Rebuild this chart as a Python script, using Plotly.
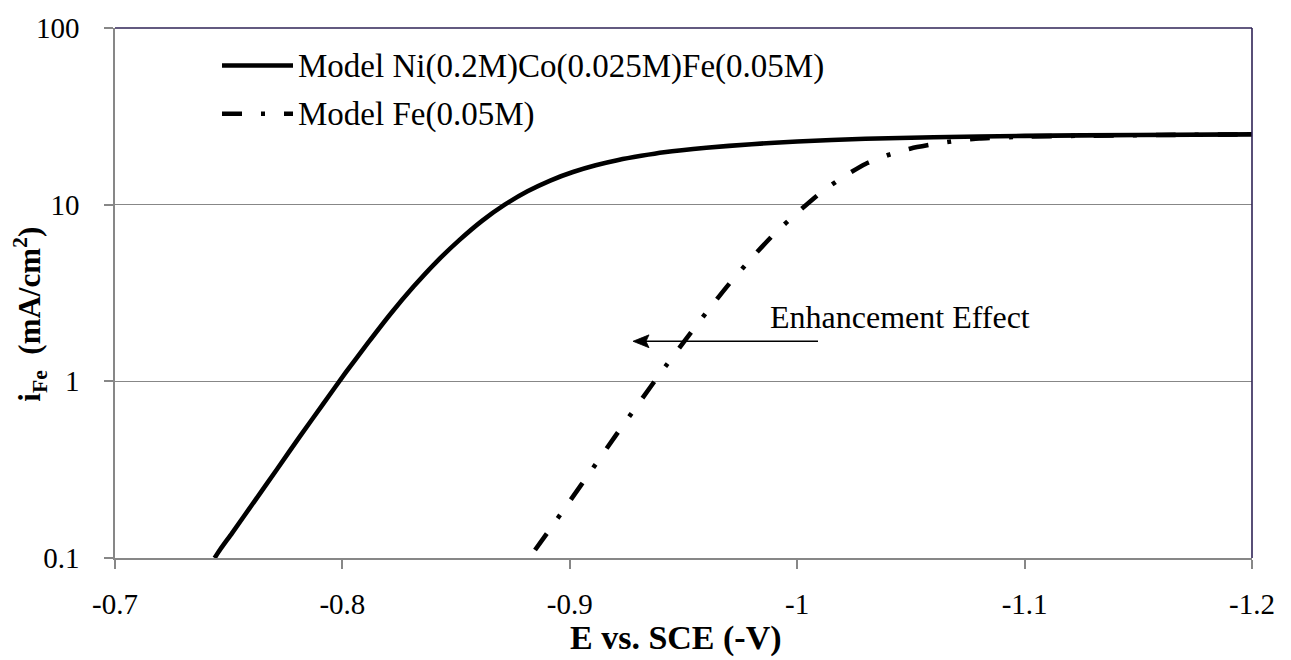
import plotly.graph_objects as go

# Electrode potential (V vs. SCE) and partial Fe current density (mA/cm^2)
e_nicofe = [-0.7438, -0.7461, -0.7514, -0.7614, -0.7714, -0.7814, -0.7914, -0.8014,
            -0.8114, -0.8214, -0.8314, -0.8414, -0.8514, -0.8614, -0.8714, -0.8814,
            -0.8914, -0.9014, -0.9114, -0.9214, -0.9314, -0.9414, -0.96, -0.98,
            -1.00, -1.03, -1.06, -1.10, -1.15, -1.20]
i_nicofe = [0.100, 0.111, 0.138, 0.21, 0.32, 0.49, 0.74, 1.12,
            1.66, 2.43, 3.45, 4.75, 6.3, 8.1, 10.0, 11.9,
            13.7, 15.3, 16.7, 17.9, 18.9, 19.8, 21.0, 22.0,
            22.8, 23.6, 24.1, 24.5, 24.8, 25.0]

e_fe = [-0.8847, -0.89, -0.90, -0.91, -0.92, -0.93, -0.94, -0.95, -0.96, -0.97,
        -0.98, -0.99, -1.00, -1.01, -1.02, -1.03, -1.04, -1.05, -1.06, -1.07,
        -1.08, -1.10, -1.13, -1.16, -1.20]
i_fe = [0.111, 0.138, 0.21, 0.32, 0.49, 0.74, 1.12, 1.66, 2.45, 3.55,
        5.0, 6.85, 9.0, 11.6, 14.3, 17.0, 19.1, 20.8, 22.0, 23.0,
        23.7, 24.3, 24.6, 24.8, 25.0]

series_names = ["Model Ni(0.2M)Co(0.025M)Fe(0.05M)", "Model Fe(0.05M)"]

x_ticks = [-0.7, -0.8, -0.9, -1.0, -1.1, -1.2]
x_ticktext = ["-0.7", "-0.8", "-0.9", "-1", "-1.1", "-1.2"]
y_ticks = [0.1, 1, 10, 100]
y_ticktext = ["0.1", "1", "10", "100"]

FONT = "Liberation Serif, Times New Roman, serif"
FS_TICK = 29
FS_LEGEND = 33
FS_NOTE = 32
FS_XTITLE = 34
FS_YTITLE = 31
AXIS_GRAY = "#878787"
BORDER = "#2f2356"
DASHDOT = "20px,19px,4px,19px"
LW = 4.6

W, H = 1291, 660
L, R, T, B = 115, 39, 20, 102
PW, PH = W - L - R, H - T - B


def px_x(px):
    return (px - L) / PW


def px_y(py):
    return (H - B - py) / PH


fig = go.Figure()
fig.add_trace(go.Scatter(x=e_nicofe, y=i_nicofe, mode="lines", name=series_names[0],
                         line=dict(color="black", width=LW, shape="spline", smoothing=0.5),
                         showlegend=False))
fig.add_trace(go.Scatter(x=e_fe, y=i_fe, mode="lines", name=series_names[1],
                         line=dict(color="black", width=LW, dash=DASHDOT,
                                   shape="spline", smoothing=0.5),
                         showlegend=False))

shapes = []
annotations = []

# Legend drawn in the upper-left corner of the plot area
legend_rows = [(58, None), (107, DASHDOT)]
for (row_y, dash), name in zip(legend_rows, series_names):
    line = dict(color="black", width=LW)
    if dash:
        line["dash"] = dash
    shapes.append(dict(type="line", xref="paper", yref="paper",
                       x0=px_x(222), x1=px_x(293), y0=px_y(row_y), y1=px_y(row_y),
                       line=line))
    annotations.append(dict(xref="paper", yref="paper", x=px_x(296), y=px_y(row_y + 1),
                            xanchor="left", yanchor="middle", showarrow=False,
                            text=name, font=dict(family=FONT, size=FS_LEGEND, color="black")))

# Top and right frame of the plot area
shapes.append(dict(type="line", xref="paper", yref="paper", x0=0, x1=1, y0=1, y1=1,
                   line=dict(color=BORDER, width=1.6)))
shapes.append(dict(type="line", xref="paper", yref="paper", x0=1, x1=1, y0=0, y1=1,
                   line=dict(color=BORDER, width=1.6)))

# Arrow: shaft plus filled head pointing left
arrow_y = 338
shapes.append(dict(type="line", xref="paper", yref="paper",
                   x0=px_x(818), x1=px_x(642), y0=px_y(arrow_y), y1=px_y(arrow_y),
                   line=dict(color="black", width=1.3)))
head = [(633, arrow_y), (649, arrow_y - 6.5), (646, arrow_y), (649, arrow_y + 6.5)]
head_path = "M " + " L ".join(f"{px_x(a):.5f},{px_y(b):.5f}" for a, b in head) + " Z"
shapes.append(dict(type="path", xref="paper", yref="paper", path=head_path,
                   fillcolor="black", line=dict(color="black", width=0.8)))
annotations.append(dict(xref="paper", yref="paper", x=px_x(768), y=px_y(313),
                        xanchor="left", yanchor="middle", showarrow=False,
                        text="Enhancement Effect",
                        font=dict(family=FONT, size=FS_NOTE, color="black")))

# Axis titles
annotations.append(dict(xref="paper", yref="paper", x=px_x(676), y=px_y(639),
                        xanchor="center", yanchor="middle", showarrow=False,
                        text="<b>E vs. SCE (-V)</b>",
                        font=dict(family=FONT, size=FS_XTITLE, color="black")))
annotations.append(dict(xref="paper", yref="paper", x=px_x(30), y=px_y(311),
                        xanchor="center", yanchor="middle", showarrow=False,
                        textangle=-90,
                        text="<b>i<sub>Fe</sub>  (mA/cm<sup>2</sup>)</b>",
                        font=dict(family=FONT, size=FS_YTITLE, color="black")))

fig.update_layout(
    width=W, height=H,
    margin=dict(l=L, r=R, t=T, b=B),
    paper_bgcolor="white", plot_bgcolor="white",
    font=dict(family=FONT, size=FS_TICK, color="black"),
    shapes=shapes, annotations=annotations,
    showlegend=False,
)
fig.update_xaxes(range=[-0.7, -1.2], tickmode="array", tickvals=x_ticks, ticktext=x_ticktext,
                 showgrid=False, zeroline=False, showline=True, linecolor=AXIS_GRAY,
                 linewidth=1.6, ticks="outside", ticklen=9, tickwidth=1.6, tickcolor=AXIS_GRAY,
                 ticklabelstandoff=10, tickfont=dict(family=FONT, size=FS_TICK, color="black"))
fig.update_yaxes(type="log", range=[-1, 2], tickmode="array", tickvals=y_ticks,
                 ticktext=y_ticktext, showgrid=True, gridcolor=AXIS_GRAY, gridwidth=1.4,
                 zeroline=False, showline=True, linecolor=AXIS_GRAY, linewidth=1.6,
                 ticks="outside", ticklen=9, tickwidth=1.6, tickcolor=AXIS_GRAY,
                 ticklabelstandoff=19, tickfont=dict(family=FONT, size=FS_TICK, color="black"))

fig.write_html("out.html")
